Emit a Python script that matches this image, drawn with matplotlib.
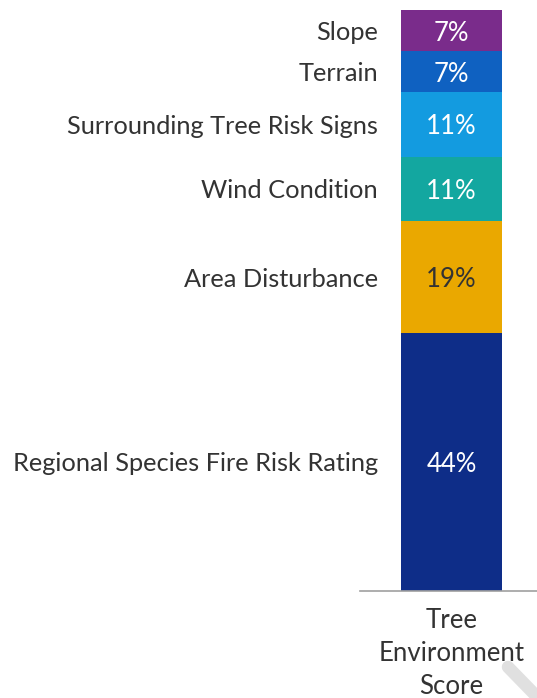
import matplotlib
matplotlib.use("Agg")
import matplotlib.pyplot as plt
from matplotlib.lines import Line2D

# Component shares of the tree environment score (bottom to top)
categories = ["Regional Species Fire Risk Rating", "Area Disturbance", "Wind Condition",
              "Surrounding Tree Risk Signs", "Terrain", "Slope"]
shares = [44, 19, 11, 11, 7, 7]
colors = ["#0E2D88", "#EAA800", "#13A7A0", "#139BE0", "#0F61C1", "#7A2C8B"]
value_colors = ["white", "#333333", "white", "white", "white", "white"]
bar_label = "Tree\nEnvironment\nScore"

plt.rcParams['font.family'] = ['Lato', 'DejaVu Sans']

fig = plt.figure(figsize=(5.37, 6.98), dpi=100)
W, H = 537, 698
ax = fig.add_axes([360 / W, 1 - 591 / H, 177 / W, 581 / H])

total = sum(shares)
xc = (451.5 - 360) / 177
width = 101 / 177
bottom = 0
for cat, v, c, tc in zip(categories, shares, colors, value_colors):
    ax.bar(xc, v, width=width, bottom=bottom, color=c, edgecolor="none")
    mid = bottom + v / 2
    ax.text(xc, mid, f"{v}%", ha="center", va="center_baseline", color=tc, fontsize=18.5)
    ax.text((378 - 360) / 177, mid, cat, ha="right", va="center_baseline", color="#333333",
            fontsize=18.3, clip_on=False)
    bottom += v

ax.set_xlim(0, 1)
ax.set_ylim(0, total)
for s in ["top", "right", "left"]:
    ax.spines[s].set_visible(False)
ax.spines["bottom"].set_color("#A0A0A0")
ax.spines["bottom"].set_linewidth(1.2)
ax.set_yticks([])
ax.set_xticks([xc])
ax.set_xticklabels([bar_label], fontsize=18.5, color="#333333", linespacing=1.42)
ax.tick_params(axis="x", length=0, pad=12)

# faint diagonal stroke in the lower-right corner
fig.add_artist(Line2D([508 / W, 545 / W], [1 - 667 / H, 1 - 705 / H],
                      transform=fig.transFigure, color="#E0E0E0", lw=9,
                      solid_capstyle="round"))

fig.savefig("out.png", dpi=100)
